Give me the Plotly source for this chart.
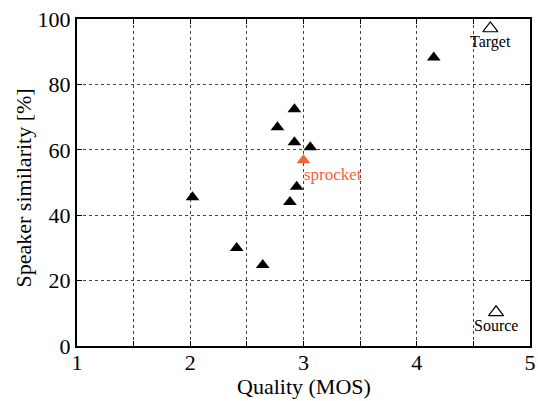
import plotly.graph_objects as go

# Systems (filled black triangles)
sys_mos = [2.02, 2.41, 2.64, 2.92, 2.77, 2.92, 3.06, 2.94, 2.88, 4.15]
sys_sim = [45.5, 30.0, 24.8, 72.4, 66.9, 62.3, 60.8, 48.7, 44.0, 88.2]

# sprocket
spr_mos = [3.0]
spr_sim = [56.8]
spr_label = ["sprocket"]

# Reference points (open triangles)
ref_mos = [4.65, 4.70]
ref_sim = [97.1, 10.3]
ref_label = ["Target", "Source"]

x_ticks = [1, 1.5, 2, 2.5, 3, 3.5, 4, 4.5, 5]
x_ticktext = ["1", "", "2", "", "3", "", "4", "", "5"]
y_ticks = [0, 20, 40, 60, 80, 100]

x_title = "Quality (MOS)"
y_title = "Speaker similarity [%]"

FONT = "Liberation Serif"
ORANGE = "#f4623a"

fig = go.Figure()
fig.add_trace(go.Scatter(x=sys_mos, y=sys_sim, mode="markers",
                         marker=dict(symbol="triangle-up", size=12, color="black"),
                         showlegend=False))
fig.add_trace(go.Scatter(x=spr_mos, y=spr_sim, mode="markers",
                         marker=dict(symbol="triangle-up", size=12, color=ORANGE),
                         showlegend=False))
fig.add_trace(go.Scatter(x=ref_mos, y=ref_sim, mode="markers",
                         marker=dict(symbol="triangle-up-open", size=13, color="black",
                                     line=dict(width=1.2)),
                         showlegend=False))

for x, y, t in zip(spr_mos, spr_sim, spr_label):
    fig.add_annotation(x=x, y=y, text=t, showarrow=False, xanchor="left", yanchor="top",
                       xshift=-2, yshift=-3, font=dict(family=FONT, size=17, color=ORANGE))
for x, y, t in zip(ref_mos, ref_sim, ref_label):
    fig.add_annotation(x=x, y=y, text=t, showarrow=False, xanchor="center", yanchor="top",
                       yshift=-3, font=dict(family=FONT, size=16, color="black"))

# axis titles
fig.add_annotation(xref="paper", yref="paper", x=0.5, y=0, text=x_title, showarrow=False,
                   xanchor="center", yanchor="middle", yshift=-40,
                   font=dict(family=FONT, size=22, color="black"))
fig.add_annotation(xref="paper", yref="paper", x=0, y=0.5, text=y_title, showarrow=False,
                   textangle=-90, xanchor="center", yanchor="middle", xshift=-54, yshift=-6,
                   font=dict(family=FONT, size=22, color="black"))

axis_common = dict(showline=True, linecolor="black", linewidth=2, mirror="ticks",
                   ticks="inside", ticklen=5, tickcolor="black", automargin=False,
                   showgrid=True, gridcolor="#444", griddash="dot", gridwidth=1,
                   zeroline=False, tickfont=dict(family=FONT, size=22, color="black"))

fig.update_xaxes(range=[1, 5], tickmode="array", tickvals=x_ticks, ticktext=x_ticktext,
                 ticklabelstandoff=-4, **axis_common)
fig.update_yaxes(range=[0, 100], tickmode="array", tickvals=y_ticks,
                 **axis_common)

fig.update_layout(width=538, height=401, margin=dict(l=77, r=8, t=19, b=55),
                  plot_bgcolor="white", paper_bgcolor="white",
                  font=dict(family=FONT, color="black"))

# remove the browser's default 8px body margin so the figure fills the window exactly
fig.write_html("out.html", config={"displayModeBar": False},
               post_script="document.body.style.margin='0';document.body.style.overflow='hidden';")
